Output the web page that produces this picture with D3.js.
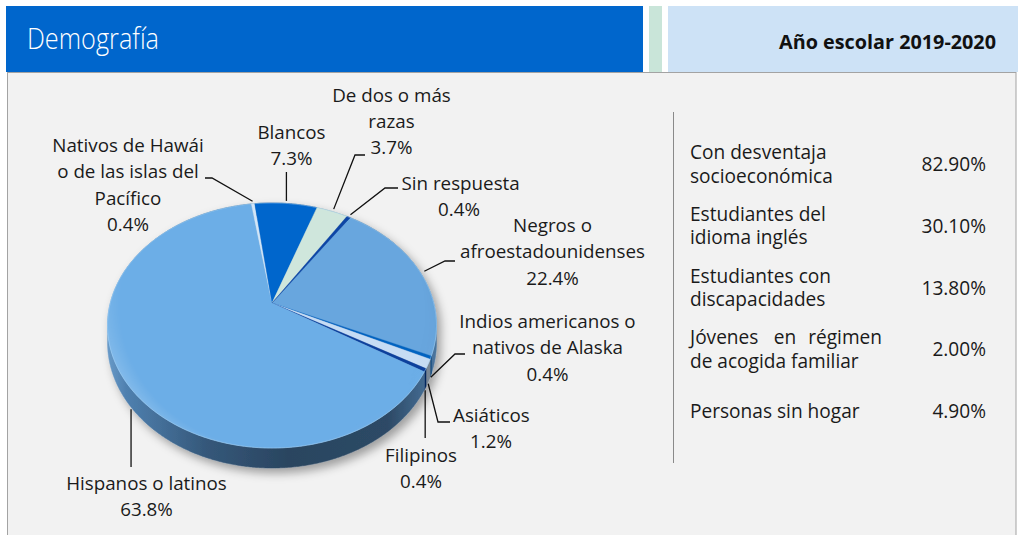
<!DOCTYPE html>
<html><head><meta charset="utf-8">
<script src="https://cdn.jsdelivr.net/npm/d3@7"></script>
<style>html,body{margin:0;padding:0;background:#fff;}svg{display:block;}</style>
</head><body>
<svg id="chart" width="1018" height="535"></svg>
<script>
// ---------- data ----------
const categories = ["Negros o afroestadounidenses","Indios americanos o nativos de Alaska","Asiáticos","Filipinos","Hispanos o latinos","Nativos de Hawái o de las islas del Pacífico","Blancos","De dos o más razas","Sin respuesta"];
const values = [22.4, 0.4, 1.2, 0.4, 63.8, 0.4, 7.3, 3.7, 0.4];
const valueLabels = ["22.4%","0.4%","1.2%","0.4%","63.8%","0.4%","7.3%","3.7%","0.4%"];
const labelLines = [["Negros o","afroestadounidenses"],["Indios americanos o","nativos de Alaska"],["Asiáticos"],["Filipinos"],["Hispanos o latinos"],["Nativos de Hawái","o de las islas del","Pacífico"],["Blancos"],["De dos o más","razas"],["Sin respuesta"]];
const sliceColors = ["#67a6de","#0563c1","#c6dcf4","#0a3f9c","#6caee7","#d2e6f8","#0066cc","#cfe6dc","#0a45a6"];
const tableLabels = [["Con desventaja","socioeconómica"],["Estudiantes del","idioma inglés"],["Estudiantes con","discapacidades"],["Jóvenes en régimen","de acogida familiar"],["Personas sin hogar"]];
const tableValues = ["82.90%","30.10%","13.80%","2.00%","4.90%"];
const title = "Demografía";
const subtitle = "Año escolar 2019-2020";

// ---------- layout ----------
const F = "'Open Sans', sans-serif";
const LFS = 18.8, LH = 26.3;
const svg = d3.select("#chart");
const defs = svg.append("defs");

// header
svg.append("rect").attr("x",6).attr("y",6).attr("width",637).attr("height",66).attr("fill","#0066cc");
svg.append("rect").attr("x",649).attr("y",6).attr("width",13).attr("height",66).attr("fill","#c9e5d9");
svg.append("rect").attr("x",668).attr("y",6).attr("width",350).attr("height",66).attr("fill","#cde2f6");
svg.append("text").attr("x",27).attr("y",48.5).attr("font-family",F).attr("font-weight",300)
  .attr("font-size",29).attr("textLength",132).attr("lengthAdjust","spacingAndGlyphs")
  .attr("fill","#fff").text(title);
svg.append("text").attr("x",996).attr("y",49).attr("text-anchor","end").attr("font-family",F)
  .attr("font-weight",700).attr("font-size",19.8).attr("fill","#111").text(subtitle);

// panel
svg.append("rect").attr("x",7.5).attr("y",72.5).attr("width",1008.5).attr("height",470)
  .attr("fill","#f2f2f2").attr("stroke","#a3a3a3").attr("stroke-width",1);

// ---------- 3D pie (perspective projection of a circle) ----------
const P = {cx:272, cy:303, a:161.7, b:118.4, k:0.1837, h:16.3};
function proj(phi, r=1, side=false){
  const u = r*Math.sin(phi), v = -r*Math.cos(phi);
  const d = 1 - P.k*v;
  return [P.cx + P.a*u/d, P.cy + P.b*v/d + (side ? P.h/d : 0)];
}
const startDeg = 33.8;
const pie = d3.pie().sort(null).value(d=>d)
  .startAngle(startDeg*Math.PI/180).endAngle(startDeg*Math.PI/180 + 2*Math.PI);
const arcs = pie(values);
const line = d3.line();
function rim(a0, a1, side){
  const n = Math.max(2, Math.ceil((a1-a0)/(0.4*Math.PI/180)));
  return d3.range(n+1).map(i => proj(a0 + (a1-a0)*i/n, 1, side));
}

// gradients
const sg = defs.append("linearGradient").attr("id","sideG").attr("gradientUnits","userSpaceOnUse")
  .attr("x1",P.cx-P.a-4).attr("x2",P.cx+P.a+4).attr("y1",0).attr("y2",0);
[[0,"#6a9cca"],[0.06,"#4f80af"],[0.3,"#35587a"],[0.55,"#2a4560"],[0.85,"#2d4a66"],[1,"#4b76a0"]]
  .forEach(s=>sg.append("stop").attr("offset",s[0]).attr("stop-color",s[1]));

const hg = defs.append("linearGradient").attr("id","hiG").attr("x1","0").attr("y1","1").attr("x2","0.85").attr("y2","0.1");
[[0,"#ffffff",0.7],[0.35,"#ffffff",0.25],[0.6,"#ffffff",0],[0.85,"#000000",0.04],[1,"#000000",0.14]]
  .forEach(s=>hg.append("stop").attr("offset",s[0]).attr("stop-color",s[1]).attr("stop-opacity",s[2]));
const mg = defs.append("radialGradient").attr("id","rimMaskG").attr("cx","0.5").attr("cy","0.42").attr("r","0.58");
[[0,"#000"],[0.76,"#000"],[0.9,"#999"],[1,"#fff"]].forEach(s=>mg.append("stop").attr("offset",s[0]).attr("stop-color",s[1]));

const topOutline = line(rim(0, 2*Math.PI, false)) + "Z";
const mask = defs.append("mask").attr("id","rimMask");
mask.append("rect").attr("x",P.cx-P.a-10).attr("y",P.cy-P.b-10).attr("width",2*P.a+20).attr("height",2*P.b+80)
  .attr("fill","url(#rimMaskG)");

const sh = defs.append("filter").attr("id","shadow").attr("x","-20%").attr("y","-20%").attr("width","140%").attr("height","140%");
sh.append("feDropShadow").attr("dx",4).attr("dy",5).attr("stdDeviation",5).attr("flood-color","#000").attr("flood-opacity",0.35);

const pieG = svg.append("g").attr("filter","url(#shadow)");
// side walls
pieG.selectAll("path.side").data(arcs).join("path").attr("class","side")
  .attr("d", d => {
    const top = rim(d.startAngle, d.endAngle, false);
    const bot = rim(d.startAngle, d.endAngle, true).reverse();
    return line(top.concat(bot)) + "Z";
  })
  .attr("fill", (d,i) => values[i] > 5 ? "url(#sideG)" : d3.color(sliceColors[i]).darker(1.4))
  .attr("stroke", (d,i) => values[i] > 5 ? "url(#sideG)" : d3.color(sliceColors[i]).darker(1.4)).attr("stroke-width",0.5);
// top faces
pieG.selectAll("path.top").data(arcs).join("path").attr("class","top")
  .attr("d", d => line([[P.cx,P.cy]].concat(rim(d.startAngle, d.endAngle, false))) + "Z")
  .attr("fill", (d,i) => sliceColors[i]).attr("stroke", (d,i) => sliceColors[i]).attr("stroke-width",0.4);
// bevel lighting on the top face
svg.append("path").attr("d", topOutline).attr("fill","url(#hiG)").attr("mask","url(#rimMask)");
// thin light edge
svg.append("path").attr("d", topOutline).attr("fill","none").attr("stroke","#a9d7fb").attr("stroke-opacity",0.5).attr("stroke-width",1);

// ---------- labels & leader lines ----------
const labelLayout = [
  {ang:null, side:false, pts:[[445,261],[455,261]], x:552.5, y:232, anchor:"middle"},
  {ang:null, side:true,  pts:[[455,354],[465,354]], x:547.5, y:328, anchor:"middle"},
  {ang:null, side:true,  pts:[[438,422],[450,422]], x:453,   y:422, anchor:"start", vx:491},
  {ang:null, side:true,  pts:[[null,438]],          x:421,   y:462, anchor:"middle"},
  {ang:230.3, side:true, pts:[[null,467]],          x:146.5, y:490, anchor:"middle"},
  {ang:null, side:false, pts:[[212,178],[205,178]], x:128,   y:152, anchor:"middle"},
  {ang:null, side:false, pts:[[null,172]],          x:291.5, y:139, anchor:"middle"},
  {ang:null, side:false, pts:[[355,155],[365,155]], x:391.5, y:101.5, anchor:"middle"},
  {ang:null, side:false, pts:[[385,188],[398,188]], x:401.5, y:190, anchor:"start", vx:459}
];
const lab = svg.append("g").attr("font-family",F).attr("font-size",LFS).attr("fill","#1a1a1a");
arcs.forEach((d,i)=>{
  const L = labelLayout[i];
  const ang = L.ang != null ? L.ang*Math.PI/180 : (d.startAngle+d.endAngle)/2;
  const p0 = proj(ang, L.side ? 1.0 : 1.03, L.side);
  if (L.side) p0[1] += 2;
  const pts = [p0];
  L.pts.forEach(p => pts.push([p[0]==null ? p0[0] : p[0], p[1]]));
  lab.append("path").attr("d", line(pts)).attr("fill","none").attr("stroke","#111").attr("stroke-width",1.3);
  const lines = labelLines[i];
  lines.forEach((t,j)=>{
    lab.append("text").attr("x",L.x).attr("y",L.y + j*LH).attr("text-anchor",L.anchor).text(t);
  });
  lab.append("text").attr("x", L.vx != null ? L.vx : L.x).attr("y", L.y + lines.length*LH)
    .attr("text-anchor","middle").text(valueLabels[i]);
});

// ---------- right table ----------
svg.append("line").attr("x1",673.5).attr("x2",673.5).attr("y1",112).attr("y2",463).attr("stroke","#8a8a8a").attr("stroke-width",1);
const TFS = 19.1;
const rowY = d3.scalePoint().domain(d3.range(tableValues.length)).range([171, 418]);
const tb = svg.append("g").attr("font-family",F).attr("font-size",TFS).attr("fill","#1a1a1a");
tableLabels.forEach((ls,i)=>{
  const yc = rowY(i);
  if (ls.length === 1) {
    tb.append("text").attr("x",690).attr("y",yc).text(ls[0]);
  } else {
    ls.forEach((t,j)=>{
      const y = yc - 12 + j*23.5;
      if (i === 3 && j === 0) {
        const words = t.split(" ");
        tb.append("text").attr("x",690).attr("y",y).text(words[0]);
        tb.append("text").attr("x",785).attr("y",y).attr("text-anchor","middle").text(words[1]);
        tb.append("text").attr("x",882).attr("y",y).attr("text-anchor","end").text(words[2]);
      } else {
        tb.append("text").attr("x",690).attr("y",y).text(t);
      }
    });
  }
  tb.append("text").attr("x",986).attr("y",yc).attr("text-anchor","end").text(tableValues[i]);
});
</script>
</body></html>
